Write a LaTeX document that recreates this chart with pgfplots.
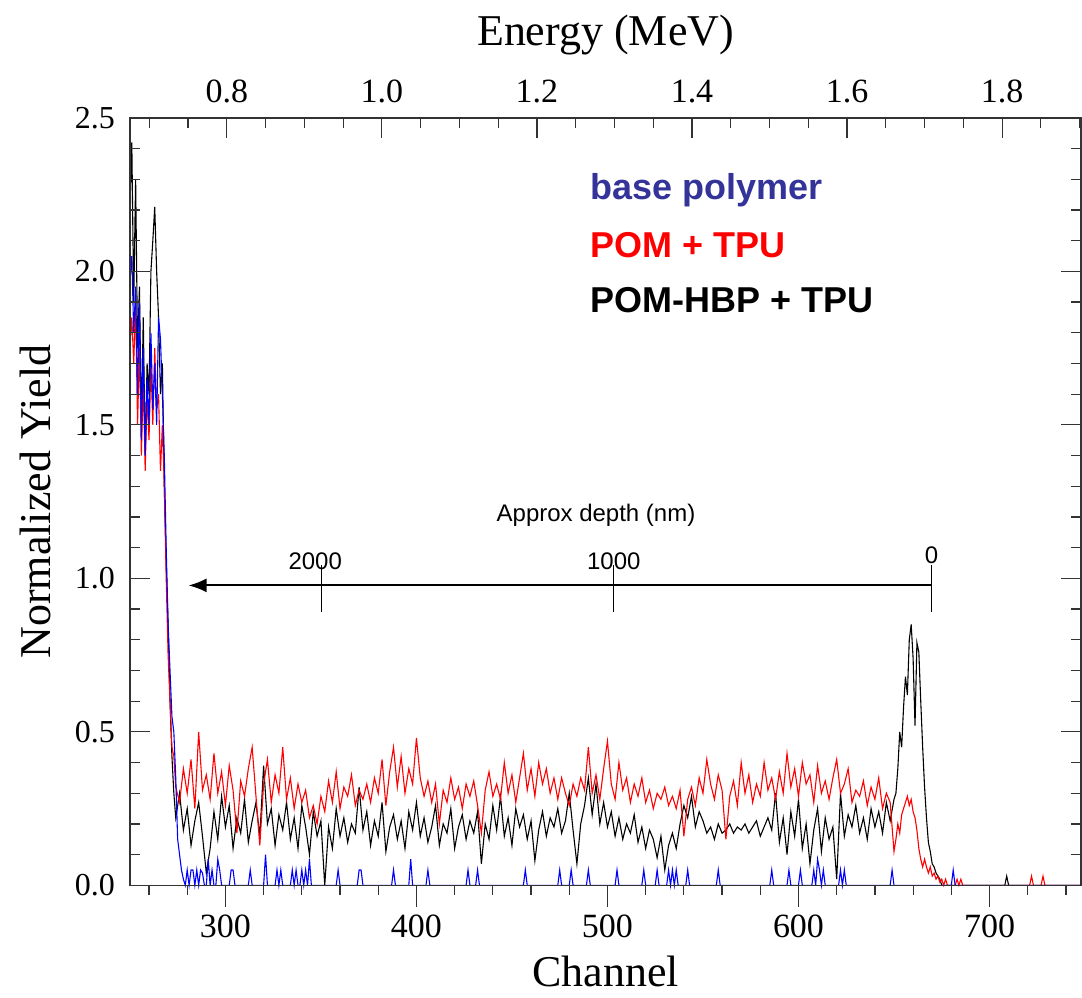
\documentclass[border=0pt]{standalone}
\usepackage{fontspec}
\setmainfont{Liberation Serif}
\newfontfamily\arial{Liberation Sans}
\usepackage{pgfplots}
\pgfplotsset{compat=1.18}
\usetikzlibrary{arrows.meta}
\definecolor{legblue}{RGB}{51,51,153}

\begin{document}
\begin{tikzpicture}
% main axis with the spectra
\begin{axis}[name=main, scale only axis, width=476pt, height=384pt,
  xmin=250, xmax=748, ymin=0, ymax=2.5,
  axis on top, clip=false,
  axis line style={black!80, line width=0.8pt},
  xtick={300,400,500,600,700}, xtick pos=left, xtick style={draw=none},
  xmajorgrids=false, ymajorgrids=false,
  ytick={0,0.5,1,1.5,2,2.5}, minor y tick num=4,
  tick align=inside, major tick length=10pt, minor tick length=5pt,
  every tick/.style={black!80, line width=0.6pt},
  /pgf/number format/assume math mode=true,
  xticklabel style={font=\fontsize{17}{17}\selectfont, yshift=-11.5pt},
  yticklabel style={font=\fontsize{16}{16}\selectfont, xshift=-4pt,
    /pgf/number format/.cd, fixed, fixed zerofill, precision=1},
  xlabel={Channel},
  xlabel style={font=\fontsize{22}{22}\selectfont, at={(axis description cs:0.5,-0.112)}, anchor=center, inner sep=0pt},
  ylabel={Normalized Yield},
  ylabel style={font=\fontsize{22}{22}\selectfont, at={(axis description cs:-0.0998,0.5)}, anchor=center, inner sep=0pt},
]
\addplot[black, line width=0.55pt] coordinates {
(250,2.20)(251,2.42)(252,1.90)(253,2.30)(254,1.75)(255,1.95)(256,1.50)(257,1.85)(258,1.40)(259,1.70)(260,1.60)(261,2.00)(262,2.10)(263,2.21)(264,2.00)(265,1.85)(266,1.60)(267,1.70)(268,1.30)(269,1.05)(270,0.85)(271,0.60)(272,0.42)(273,0.30)
(274,0.22)(276,0.30)(278,0.18)(280,0.25)(282,0.13)(284,0.21)(286,0.27)(288,0.16)(290,0.04)(292,0.12)
(294,0.24)(296,0.15)(298,0.29)(300,0.19)(302,0.26)(304,0.12)(306,0.22)(308,0.17)(310,0.28)(312,0.14)
(314,0.21)(316,0.27)(318,0.16)(320,0.39)(322,0.20)(324,0.25)(326,0.13)(328,0.23)(330,0.18)(332,0.27)
(334,0.15)(336,0.22)(338,0.12)(340,0.26)(342,0.19)(344,0.10)(346,0.24)(348,0.16)(350,0.21)(352,0.00)
(354,0.19)(356,0.12)(358,0.25)(360,0.16)(362,0.22)(364,0.14)(366,0.20)(368,0.17)(370,0.32)(372,0.18)
(374,0.24)(376,0.13)(378,0.21)(380,0.16)(382,0.27)(384,0.11)(386,0.19)(388,0.23)(390,0.15)(392,0.21)
(394,0.12)(396,0.24)(398,0.18)(400,0.27)(402,0.16)(404,0.22)(406,0.14)(408,0.19)(410,0.26)(412,0.13)
(414,0.20)(416,0.17)(418,0.25)(420,0.12)(422,0.19)(424,0.23)(426,0.15)(428,0.21)(430,0.17)(432,0.24)
(434,0.07)(436,0.20)(438,0.15)(440,0.26)(442,0.18)(444,0.29)(446,0.16)(448,0.22)(450,0.13)(452,0.25)
(454,0.19)(456,0.23)(458,0.15)(460,0.21)(462,0.08)(464,0.18)(466,0.24)(468,0.16)(470,0.22)(472,0.19)
(474,0.25)(476,0.17)(478,0.21)(480,0.30)(482,0.18)(484,0.07)(486,0.20)(488,0.26)(490,0.35)(492,0.23)
(494,0.33)(496,0.20)(498,0.27)(500,0.19)(502,0.24)(504,0.16)(506,0.22)(508,0.15)(510,0.20)(512,0.17)
(514,0.23)(516,0.14)(518,0.19)(520,0.12)(522,0.18)(524,0.15)(526,0.09)(528,0.16)(530,0.05)(532,0.13)
(534,0.17)(536,0.12)(538,0.20)(540,0.26)(542,0.22)(544,0.29)(546,0.19)(548,0.24)(550,0.21)(552,0.17)
(554,0.19)(556,0.15)(558,0.20)(560,0.17)(562,0.18)(564,0.20)(566,0.17)(568,0.19)(570,0.18)(572,0.20)
(574,0.17)(576,0.19)(578,0.21)(580,0.16)(582,0.19)(584,0.22)(586,0.18)(588,0.30)(590,0.14)(592,0.22)
(594,0.10)(596,0.24)(598,0.16)(600,0.28)(602,0.12)(604,0.20)(606,0.07)(608,0.18)(610,0.25)(612,0.11)
(614,0.22)(616,0.15)(618,0.19)(620,0.02)(622,0.30)(624,0.16)(626,0.23)(628,0.19)(630,0.26)(632,0.17)
(634,0.22)(636,0.15)(638,0.25)(640,0.19)(642,0.24)(644,0.17)(646,0.27)(648,0.21)(650,0.28)
(651,0.30)(652,0.38)(653,0.50)(654,0.45)(655,0.58)(656,0.68)(657,0.62)(658,0.80)(659,0.85)(660,0.74)(661,0.52)(662,0.79)(663,0.76)(664,0.60)(665,0.45)(666,0.32)(667,0.22)(668,0.14)(669,0.11)(670,0.07)(671,0.06)(672,0.04)(673,0.03)(674,0.02)(675,0)(708,0)(709,0.03)(710,0)(748,0)
};
\addplot[red, line width=0.55pt] coordinates {
(250,1.75)(251,1.85)(252,1.70)(253,1.90)(254,1.50)(255,1.75)(256,1.40)(257,1.65)(258,1.35)(259,1.60)(260,1.45)(261,1.70)(262,1.50)(263,1.75)(264,1.55)(265,1.60)(266,1.35)(267,1.50)(268,1.30)(269,1.00)(270,0.75)(271,0.60)(272,0.45)(273,0.42)
(274,0.32)(276,0.27)(278,0.38)(280,0.30)(282,0.41)(284,0.25)(286,0.50)(288,0.31)(290,0.36)(292,0.28)
(294,0.43)(296,0.30)(298,0.37)(300,0.26)(302,0.39)(304,0.31)(306,0.17)(308,0.34)(310,0.29)(312,0.38)
(314,0.45)(316,0.29)(318,0.13)(320,0.33)(322,0.41)(324,0.27)(326,0.36)(328,0.30)(330,0.45)(332,0.28)
(334,0.35)(336,0.25)(338,0.33)(340,0.27)(342,0.31)(344,0.22)(346,0.26)(348,0.20)(350,0.29)(352,0.24)
(354,0.34)(356,0.27)(358,0.37)(360,0.25)(362,0.32)(364,0.29)(366,0.36)(368,0.26)(370,0.31)(372,0.28)
(374,0.33)(376,0.27)(378,0.35)(380,0.30)(382,0.41)(384,0.26)(386,0.37)(388,0.45)(390,0.32)(392,0.42)
(394,0.30)(396,0.38)(398,0.33)(400,0.48)(402,0.35)(404,0.29)(406,0.34)(408,0.27)(410,0.33)(412,0.20)
(414,0.31)(416,0.27)(418,0.35)(420,0.28)(422,0.32)(424,0.25)(426,0.33)(428,0.29)(430,0.34)(432,0.26)
(434,0.17)(436,0.31)(438,0.37)(440,0.29)(442,0.33)(444,0.28)(446,0.40)(448,0.30)(450,0.36)(452,0.27)
(454,0.35)(456,0.43)(458,0.31)(460,0.38)(462,0.29)(464,0.40)(466,0.33)(468,0.38)(470,0.30)(472,0.35)
(474,0.28)(476,0.35)(478,0.30)(480,0.26)(482,0.33)(484,0.29)(486,0.35)(488,0.31)(490,0.45)(492,0.30)
(494,0.36)(496,0.28)(498,0.38)(500,0.47)(502,0.33)(504,0.28)(506,0.40)(508,0.31)(510,0.35)(512,0.27)
(514,0.33)(516,0.29)(518,0.35)(520,0.27)(522,0.31)(524,0.25)(526,0.30)(528,0.28)(530,0.32)(532,0.26)
(534,0.29)(536,0.25)(538,0.31)(540,0.16)(542,0.28)(544,0.32)(546,0.26)(548,0.35)(550,0.30)(552,0.41)
(554,0.33)(556,0.28)(558,0.36)(560,0.31)(562,0.15)(564,0.29)(566,0.34)(568,0.26)(570,0.40)(572,0.30)
(574,0.36)(576,0.27)(578,0.33)(580,0.29)(582,0.40)(584,0.31)(586,0.35)(588,0.28)(590,0.37)(592,0.30)
(594,0.43)(596,0.32)(598,0.38)(600,0.29)(602,0.40)(604,0.33)(606,0.36)(608,0.27)(610,0.39)(612,0.30)
(614,0.34)(616,0.28)(618,0.35)(620,0.41)(622,0.30)(624,0.33)(626,0.38)(628,0.27)(630,0.31)(632,0.29)
(634,0.34)(636,0.26)(638,0.32)(640,0.28)(642,0.35)(644,0.25)(646,0.30)(648,0.27)(650,0.11)
(651,0.15)(652,0.20)(653,0.17)(654,0.23)(655,0.25)(656,0.27)(657,0.29)(658,0.26)(659,0.28)(660,0.24)(661,0.22)(662,0.18)(663,0.12)(664,0.085)(665,0.06)(666,0.085)(667,0.06)(668,0.04)(669,0.06)(670,0.03)(671,0.04)(672,0.02)(673,0.03)(674,0.01)(675,0.02)(676,0)(677,0.02)(678,0)(682,0)(683,0.02)(684,0)(685,0.02)(686,0)(721,0)(722,0.03)(723,0)(727,0)(728,0.03)(729,0)(748,0)
};
\addplot[blue, line width=0.55pt] coordinates {
(250,1.97)(251,2.05)(252,1.80)(253,1.95)(254,1.60)(255,1.90)(256,1.45)(257,1.75)(258,1.40)(259,1.65)(260,1.50)(261,1.80)(262,1.55)(263,1.70)(264,1.50)(265,1.85)(266,1.78)(267,1.60)(268,1.40)(269,1.10)(270,0.85)(271,0.70)(272,0.55)(273,0.50)(274,0.35)(275,0.15)(276,0.10)(277,0.05)(278,0.02)(279,0)
(280,0.05)(281,0)(282,0.05)(283,0.05)(284,0)(285,0.05)(286,0)(287,0.05)(288,0.04)(289,0)(290,0)(291,0.085)(292,0)(293,0.05)(294,0)(295,0)(296,0.085)(297,0.05)(298,0)
(302,0)(303,0.05)(304,0.05)(305,0)(312,0)(313,0.05)(314,0)(320,0)(321,0.1)(322,0)(326,0)(327,0.05)(328,0)(329,0.05)(330,0)
(334,0)(335,0.05)(336,0)(337,0.05)(338,0)(339,0)(340,0.05)(341,0)(342,0.05)(343,0)(344,0.085)(345,0)(358,0)(359,0.05)(360,0)
(369,0)(370,0.05)(371,0.05)(372,0)(387,0)(388,0.05)(389,0)(396,0)(397,0.085)(398,0)(405,0)(406,0.05)(407,0)
(426,0)(427,0.05)(428,0)(431,0)(432,0.05)(433,0)(456,0)(457,0.05)(458,0)(474,0)(475,0.05)(476,0)(480,0)(481,0.05)(482,0)
(489,0)(490,0.05)(491,0)(504,0)(505,0.05)(506,0)(518,0)(519,0.05)(520,0)(525,0)(526,0.05)(527,0)(531,0)(532,0.05)(533,0)(534,0.05)(535,0)(536,0.05)(537,0)
(541,0)(542,0.05)(543,0)(557,0)(558,0.05)(559,0)(585,0)(586,0.05)(587,0)(594,0)(595,0.05)(596,0)(600,0)(601,0.05)(602,0)
(607,0)(608,0.05)(609,0)(610,0.085)(611,0.05)(612,0)(613,0.05)(614,0)(621,0)(622,0.05)(623,0)(624,0.05)(625,0)
(648,0)(649,0.05)(650,0)(680,0)(681,0.05)(682,0)(748,0)
};
% minor ticks: bottom channel (outside) and top energy (inside)
\pgfplotsinvokeforeach{260,280,320,340,360,380,420,440,460,480,520,540,560,580,620,640,660,680,720,740}{\draw[black!80, line width=0.6pt] (axis cs:#1,0) -- ++(0pt,-5pt);}
\pgfplotsinvokeforeach{260.15,280.44,321.03,341.32,361.61,402.20,422.49,442.79,483.37,503.67,523.96,564.55,584.84,605.13,645.72,666.01,686.31,726.89,747.19}{\draw[black!80, line width=0.6pt] (axis cs:#1,2.5) -- ++(0pt,-5pt);}
% depth scale
\draw[-{Latex[length=9pt,width=7pt]}, line width=1pt] (axis cs:669.6,0.977) -- (axis cs:280.7,0.977);
\draw[line width=0.6pt] (axis cs:350.2,0.892) -- (axis cs:350.2,1.042);
\draw[line width=0.6pt] (axis cs:503.3,0.892) -- (axis cs:503.3,1.042);
\draw[line width=0.6pt] (axis cs:669.6,0.892) -- (axis cs:669.6,1.042);
\node[font=\arial\fontsize{12}{12}\selectfont] at (axis cs:347,1.055) {2000};
\node[font=\arial\fontsize{12}{12}\selectfont] at (axis cs:503.3,1.055) {1000};
\node[font=\arial\fontsize{12}{12}\selectfont] at (axis cs:669.6,1.074) {0};
\node[font=\arial\fontsize{12}{12}\selectfont] at (axis cs:494,1.204) {Approx depth (nm)};
% legend text
\node[anchor=west, inner sep=0pt, text=legblue, font=\arial\bfseries\fontsize{18}{18}\selectfont] at (axis cs:490.8,2.266) {base polymer};
\node[anchor=west, inner sep=0pt, text=red, font=\arial\bfseries\fontsize{18}{18}\selectfont] at (axis cs:490.8,2.087) {POM + TPU};
\node[anchor=west, inner sep=0pt, text=black, font=\arial\bfseries\fontsize{18}{18}\selectfont] at (axis cs:490.8,1.908) {POM-HBP + TPU};
\end{axis}
% energy axis (top): tick labels and title
\begin{axis}[scale only axis, width=476pt, height=384pt,
  xmin=0.675, xmax=1.902, ymin=0, ymax=1,
  ytick=\empty, axis line style={draw=none},
  xtick={0.8,1.0,1.2,1.4,1.6,1.8},
  xtick pos=right, xticklabel pos=right, xtick style={draw=none},
  xmajorgrids=false,
  tick align=inside,
  /pgf/number format/assume math mode=true,
  xticklabel style={font=\fontsize{17}{17}\selectfont, yshift=4pt,
    /pgf/number format/.cd, fixed, fixed zerofill, precision=1},
  xlabel={Energy (MeV)},
  xlabel style={font=\fontsize{22}{22}\selectfont, at={(axis description cs:0.5,1.108)}, anchor=center, inner sep=0pt},
]
\addplot[draw=none] coordinates {(1.0,0.5)};
\end{axis}
% major ticks, drawn last so nothing covers them
\foreach \dx in {47.79,143.37,238.96,334.54,430.12}
  \draw[black!80, line width=0.6pt] ([xshift=\dx pt]main.south west) -- ++(0pt,-11pt);
\foreach \dx in {48.49,126.08,203.67,281.25,358.84,436.42}
  \draw[black!80, line width=0.6pt] ([xshift=\dx pt]main.north west) -- ++(0pt,-10pt);
\path ([xshift=-65pt,yshift=-56pt]main.south west) rectangle ([yshift=59pt]main.north east);
\end{tikzpicture}
\end{document}
